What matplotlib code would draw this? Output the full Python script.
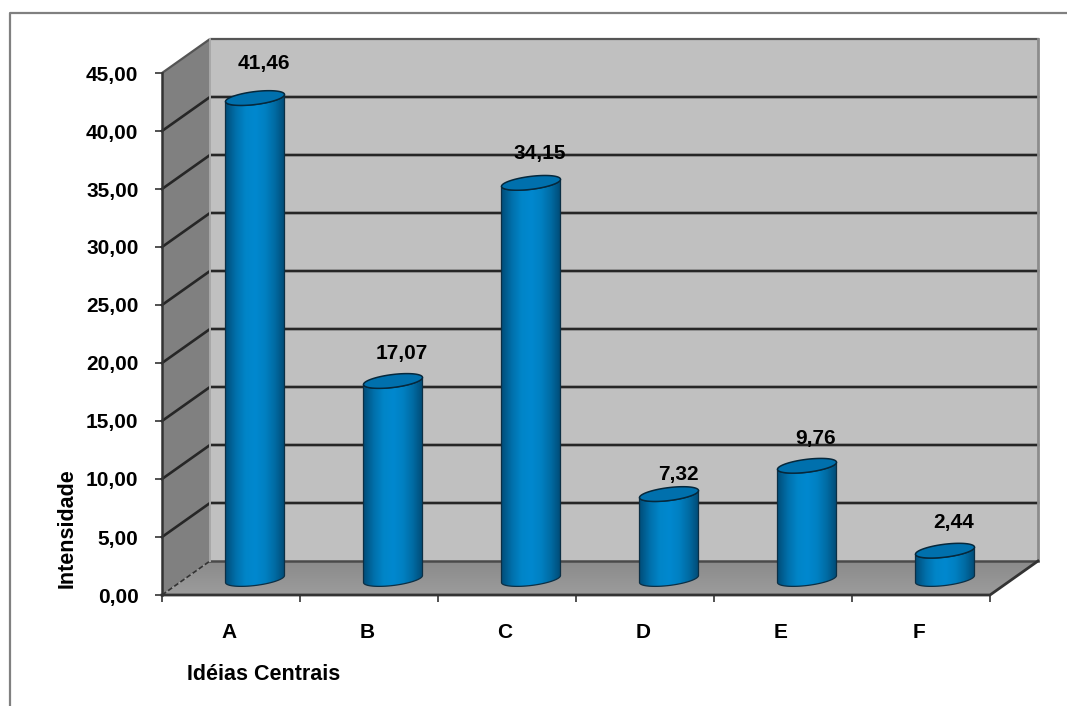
import numpy as np
import matplotlib
matplotlib.use("Agg")
import matplotlib.pyplot as plt
from matplotlib.colors import LinearSegmentedColormap
from matplotlib.patches import Polygon

plt.rcParams['font.family'] = ['Liberation Sans', 'DejaVu Sans']

categories = ["A", "B", "C", "D", "E", "F"]
values = [41.46, 17.07, 34.15, 7.32, 9.76, 2.44]
y_ticks = [0, 5, 10, 15, 20, 25, 30, 35, 40, 45]
# extra vertical gap for a couple of the value labels, in pixels
label_nudge = [6, -2, 0, -9, -2, -1]

W, H = 1067, 706
LEFT, RIGHT, BOTTOM, TOP = 162, 990, 595, 73
# pixels per data unit, the 3D look is done by hand with these
PX_X = (RIGHT - LEFT) / len(categories)
PX_Y = (BOTTOM - TOP) / 45
DEPTH_X = 48 / PX_X
DEPTH_Y = 34 / PX_Y
FONT = 15

fig = plt.figure(figsize=(W / 100, H / 100), dpi=100)
ax = fig.add_axes([LEFT / W, 1 - BOTTOM / H, (RIGHT - LEFT) / W, (BOTTOM - TOP) / H])
n = len(categories)

# outer frame
frame = fig.add_axes([0, 0, 1, 1], zorder=-5)
frame.set_xlim(0, W)
frame.set_ylim(H, 0)
frame.axis("off")
frame.plot([10, 10, W], [H, 13, 13], color="#808080", lw=1.6)

ax.patch.set_visible(False)
for s in ax.spines.values():
    s.set_visible(False)

# walls and floor
ax.add_patch(Polygon([(0, 0), (DEPTH_X, DEPTH_Y), (DEPTH_X, 45 + DEPTH_Y), (0, 45)],
                     fc="#808080", ec="none", clip_on=False, zorder=1))
ax.add_patch(Polygon([(DEPTH_X, DEPTH_Y), (n + DEPTH_X, DEPTH_Y), (n + DEPTH_X, 45 + DEPTH_Y), (DEPTH_X, 45 + DEPTH_Y)],
                     fc="#c0c0c0", ec="none", clip_on=False, zorder=1))
floor = Polygon([(0, 0), (n, 0), (n + DEPTH_X, DEPTH_Y), (DEPTH_X, DEPTH_Y)],
                fc="none", ec="none", clip_on=False, zorder=1)
ax.add_patch(floor)
floor_cmap = LinearSegmentedColormap.from_list("floor", ["#9c9c9c", "#8a8a8a"])
im = ax.imshow(np.linspace(0, 1, 64).reshape(-1, 1), cmap=floor_cmap, origin="lower", aspect="auto",
               extent=(0, n + DEPTH_X, 0, DEPTH_Y), zorder=1.1)
im.set_clip_path(floor)
# the floor sticks out past the axes box on the right
im.set_clip_box(fig.bbox)

# gridlines run along the left side then across the back wall
for v in y_ticks[1:-1]:
    ax.plot([0, DEPTH_X, n + DEPTH_X], [v, v + DEPTH_Y, v + DEPTH_Y], color="#262626", lw=1.9,
            clip_on=False, zorder=2, solid_joinstyle="miter")
ax.plot([0, DEPTH_X, n + DEPTH_X], [45, 45 + DEPTH_Y, 45 + DEPTH_Y], color="#555555", lw=1.6, clip_on=False, zorder=2)
ax.plot([0, DEPTH_X], [0, DEPTH_Y], color="#333333", lw=1.2, ls=(0, (3, 1.5)), clip_on=False, zorder=2)
ax.plot([DEPTH_X, n + DEPTH_X], [DEPTH_Y, DEPTH_Y], color="#4a4a4a", lw=1.8, clip_on=False, zorder=2)
ax.plot([DEPTH_X, DEPTH_X], [DEPTH_Y, 45 + DEPTH_Y], color="#a8a8a8", lw=1.4, clip_on=False, zorder=2)
ax.plot([n + DEPTH_X, n + DEPTH_X], [DEPTH_Y, 45 + DEPTH_Y], color="#8c8c8c", lw=2, clip_on=False, zorder=2)
ax.plot([0, n, n + DEPTH_X], [0, 0, DEPTH_Y], color="#333333", lw=2, clip_on=False, zorder=2.5)
ax.plot([0, 0], [0, 45], color="#333333", lw=1.8, clip_on=False, zorder=2.5)

# cylinders
cyl_cmap = LinearSegmentedColormap.from_list(
    "cyl", ["#004f7c", "#0070ab", "#0085c8", "#0088cf", "#0080c2", "#006ba3", "#004a75"])
RX, RY, TILT = 29.5, 6.5, 3.5
t = np.linspace(0, 2 * np.pi, 121)
ell_x = RX * np.cos(t) / PX_X
ell_y = (RY * np.sin(t) + TILT * np.cos(t)) / PX_Y
base_y = 16 / PX_Y

for i, v in enumerate(values):
    cx = i + 0.5 + DEPTH_X / 2
    top = base_y + v
    # side of the cylinder: lower half of the base, upper edge along the top
    lower = t[:61]
    xs = RX * np.cos(lower) / PX_X
    ys = (-RY * np.sin(lower) + TILT * np.cos(lower)) / PX_Y
    outline = np.vstack([np.column_stack([cx + xs, base_y + ys])[::-1],
                         np.column_stack([cx + xs, top + ys])])
    side = Polygon(outline, fc="none", ec="#0b2f45", lw=0.9, clip_on=False, zorder=3.2)
    ax.add_patch(side)
    body = ax.imshow(np.linspace(0, 1, 128).reshape(1, -1), cmap=cyl_cmap, aspect="auto",
                     extent=(cx - RX / PX_X, cx + RX / PX_X, base_y - 10 / PX_Y, top + 10 / PX_Y),
                     zorder=3.1)
    body.set_clip_path(side)
    body.set_clip_box(fig.bbox)
    ax.add_patch(Polygon(np.column_stack([cx + ell_x, top + ell_y]), fc="#0070ad", ec="#06283c",
                         lw=1.1, clip_on=False, zorder=3.3))
    # value label sits above the cylinder top
    ax.text(cx + 9 / PX_X, top + (29 + label_nudge[i]) / PX_Y, f"{v:.2f}".replace(".", ","), ha="center",
            va="center", fontsize=FONT, fontweight="bold", color="black", zorder=4)

# imshow resets the limits, so they are set after the cylinders
ax.set_xlim(0, n)
ax.set_ylim(0, 45)

# ticks
ax.set_yticks(y_ticks)
ax.set_yticklabels([f"{v:.2f}".replace(".", ",") for v in y_ticks], fontsize=FONT, fontweight="bold")
ax.set_xticks(range(n + 1))
ax.set_xticklabels([])
ax.set_xticks(np.arange(n) + 0.5 - 2 / PX_X, minor=True)
ax.set_xticklabels(categories, minor=True, fontsize=FONT, fontweight="bold")
ax.tick_params(axis="y", length=5, width=1.2, color="#333333", pad=12)
ax.tick_params(axis="x", which="major", length=5, width=1.2, color="#333333")
ax.tick_params(axis="x", which="minor", length=0, pad=20)

frame.text(67, 528, "Intensidade", rotation=90, ha="center", va="center", fontsize=FONT + 0.5, fontweight="bold")
frame.text(264, 674, "Idéias Centrais", ha="center", va="center", fontsize=FONT + 0.5, fontweight="bold")

fig.savefig("out.png", dpi=100, facecolor="white")
